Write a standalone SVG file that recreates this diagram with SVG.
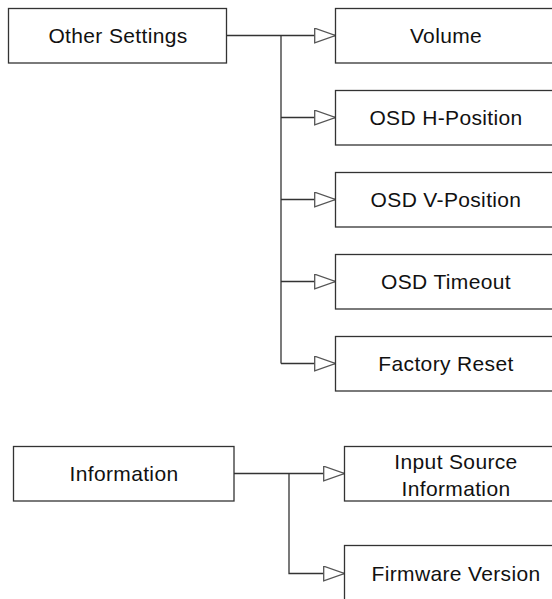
<svg xmlns="http://www.w3.org/2000/svg" width="552" height="599" viewBox="0 0 552 599">
<style>
.box{fill:#fff;stroke:#333;stroke-width:1.3}
.lbl{font-family:"Liberation Sans",Arial,sans-serif;font-size:21px;letter-spacing:0.35px;fill:#111;text-anchor:middle}
.con{fill:none;stroke:#333;stroke-width:1.3}
</style>
<defs>
<marker id="arr" viewBox="0 0 22 16" refX="21.5" refY="8" markerWidth="22" markerHeight="16" markerUnits="userSpaceOnUse" orient="auto">
<path d="M0.7,0.7 L21.3,8 L0.7,15.3 Z" fill="#fff" stroke="#555" stroke-width="1.3"/>
</marker>
</defs>
<rect width="552" height="599" fill="#fff"/>
<g id="connectors">
<path class="con" d="M227 35.5 H335.5" marker-end="url(#arr)"/>
<path class="con" d="M281 35.5 V363.5"/>
<path class="con" d="M281 117.5 H335.5" marker-end="url(#arr)"/>
<path class="con" d="M281 199.5 H335.5" marker-end="url(#arr)"/>
<path class="con" d="M281 281.5 H335.5" marker-end="url(#arr)"/>
<path class="con" d="M281 363.5 H335.5" marker-end="url(#arr)"/>
<path class="con" d="M234 473.5 H344.5" marker-end="url(#arr)"/>
<path class="con" d="M289 473.5 V573.5 H344.5" marker-end="url(#arr)"/>
</g>
<g id="other-settings"><rect class="box" x="8.5" y="8.5" width="218" height="54.5"/><text class="lbl" x="118" y="43">Other Settings</text></g>
<g id="volume"><rect class="box" x="335.5" y="8.5" width="220" height="54.5"/><text class="lbl" x="446" y="43">Volume</text></g>
<g id="osd-h"><rect class="box" x="335.5" y="90.5" width="220" height="54.5"/><text class="lbl" x="446" y="125">OSD H-Position</text></g>
<g id="osd-v"><rect class="box" x="335.5" y="172.5" width="220" height="54.5"/><text class="lbl" x="446" y="207">OSD V-Position</text></g>
<g id="osd-timeout"><rect class="box" x="335.5" y="254.5" width="220" height="54.5"/><text class="lbl" x="446" y="289">OSD Timeout</text></g>
<g id="factory-reset"><rect class="box" x="335.5" y="336.5" width="220" height="54.5"/><text class="lbl" x="446" y="371">Factory Reset</text></g>
<g id="information"><rect class="box" x="13.5" y="446.5" width="220.5" height="54.5"/><text class="lbl" x="124" y="481">Information</text></g>
<g id="input-source"><rect class="box" x="344.5" y="446.5" width="222" height="54.5"/><text class="lbl" x="456" y="469">Input Source</text><text class="lbl" x="456" y="496">Information</text></g>
<g id="firmware"><rect class="box" x="344.5" y="545.5" width="222" height="70"/><text class="lbl" x="456" y="581">Firmware Version</text></g>
</svg>
